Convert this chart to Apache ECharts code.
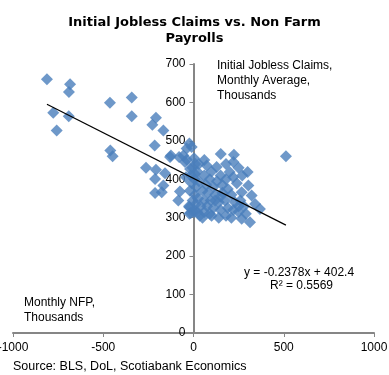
<!DOCTYPE html>
<html><head><meta charset="utf-8">
<script src="https://cdn.jsdelivr.net/npm/echarts@6/dist/echarts.min.js"></script>
<style>html,body{margin:0;padding:0;background:#fff}#c{width:389px;height:375px}</style>
</head><body><div id="c"></div>
<script>
// NFP (x) vs Initial Jobless Claims (y)
const nfp = [-812,-684,-690,-777,-691,-758,-463,-342,-342,-208,-228,-167,-215,-461,-448,-23,-38,-10,-125,-80,-47,-263,-208,-158,-19,8,-42,-213,-167,-176,-213,-75,-84,-23,-23,3,-130,-37,-56,
  3,10,-5,20,-15,5,30,-10,15,-20,8,25,-5,12,-25,3,20,-15,35,50,
  73,128,100,60,150,90,130,180,200,220,70,110,160,190,240,267,304,322,80,120,150,210,50,60,95,140,175,230,260,341,368,75,110,150,190,220,250,290,100,140,180,210,267,313,60,40,160,250,280,120,90,
  151,224,221,300,512,60,30,180,250,270];
const claims = [660,647,627,573,564,527,599,613,564,560,542,527,488,475,460,493,480,484,462,458,445,430,425,416,427,414,405,401,384,366,364,368,345,327,310,314,458,451,462,
  455,440,430,420,410,400,395,390,380,370,360,350,345,335,330,320,315,312,305,300,
  436,432,420,410,410,400,395,400,419,405,385,380,385,375,390,366,384,358,365,360,355,360,370,345,345,340,345,340,345,336,323,330,325,320,325,320,315,310,305,300,305,300,297,288,315,330,365,330,330,345,310,
  466,464,445,419,460,450,440,440,430,410];
const xTicks = [-1000,-500,0,500,1000];
const yTicks = [0,100,200,300,400,500,600,700];
const slope = -0.2378, intercept = 402.4, r2 = 0.5569;

const pts = nfp.map((v,i)=>[v,claims[i]]);
const xmin = Math.min(...nfp), xmax = Math.max(...nfp);
const trend = [[xmin, slope*xmin+intercept],[xmax, slope*xmax+intercept]];
const font = 'Liberation Sans, Arial, sans-serif';
const W = 389, gl = 13, gr = 15;
const chart = echarts.init(document.getElementById('c'));
chart.setOption({
  animation:false,
  title:{text:'Initial Jobless Claims vs. Non Farm\nPayrolls',left:'center',top:10,
    textStyle:{fontFamily:'DejaVu Sans, sans-serif',fontSize:13,fontWeight:'bold',color:'#000',lineHeight:16}},
  grid:{left:gl,right:gr,top:64,bottom:42,containLabel:false,outerBoundsMode:'none'},
  xAxis:{type:'value',min:xTicks[0],max:xTicks[xTicks.length-1],interval:500,
    axisLine:{onZero:true,lineStyle:{color:'#868686',width:2}},
    axisTick:{show:true,length:4,lineStyle:{color:'#868686'}},
    axisLabel:{color:'#000',fontFamily:font,fontSize:12,margin:9,formatter:v=>String(v)},
    splitLine:{show:false}},
  yAxis:{type:'value',min:yTicks[0],max:yTicks[yTicks.length-1],interval:100,
    offset:-(W-gl-gr)*(0-xTicks[0])/(xTicks[xTicks.length-1]-xTicks[0]),
    axisLine:{show:true,onZero:false,lineStyle:{color:'#868686',width:2}},
    axisTick:{show:true,length:4,lineStyle:{color:'#868686'}},
    axisLabel:{color:'#000',fontFamily:font,fontSize:12,margin:8,formatter:v=>String(v)},
    splitLine:{show:false}},
  series:[
    {type:'scatter',data:pts,symbol:'diamond',symbolSize:12,itemStyle:{color:'#4A7EBB'},z:2},
    {type:'line',data:trend,symbol:'none',lineStyle:{color:'#000',width:1.2},z:3}
  ],
  graphic:[
    {type:'text',left:217,top:58,style:{text:'Initial Jobless Claims,\nMonthly Average,\nThousands',font:'12px '+font,fill:'#000',lineHeight:15}},
    {type:'text',left:244,top:267,style:{text:'y = -0.2378x + 402.4',font:'12px '+font,fill:'#000'}},
    {type:'text',left:270,top:280,style:{text:'R² = '+r2,font:'12px '+font,fill:'#000'}},
    {type:'text',left:24,top:295,style:{text:'Monthly NFP,\nThousands',font:'12px '+font,fill:'#000',lineHeight:15}},
    {type:'text',left:13,top:360,style:{text:'Source: BLS, DoL, Scotiabank Economics',font:'12.5px '+font,fill:'#000'}}
  ]
});
</script></body></html>
